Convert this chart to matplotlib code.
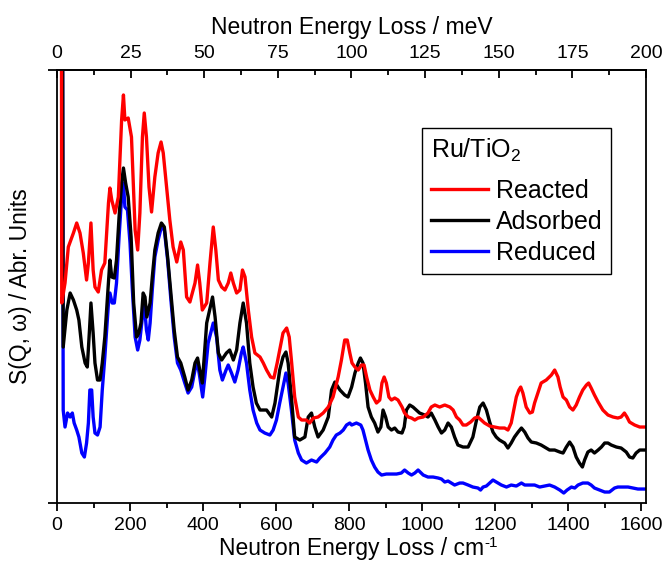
import matplotlib
matplotlib.use("Agg")
import matplotlib.pyplot as plt
from matplotlib.ticker import MultipleLocator, FixedLocator, NullFormatter

plt.rcParams['font.family'] = ['Liberation Sans', 'DejaVu Sans']
plt.rcParams['mathtext.fontset'] = 'custom'
plt.rcParams['mathtext.rm'] = 'Liberation Sans'
plt.rcParams['mathtext.it'] = 'Liberation Sans'

# energy transfer in cm-1, intensity in arbitrary units
reacted_x = [8, 13, 22, 31, 45, 54, 63, 72, 81, 86, 93, 99, 104, 113, 122, 131, 141, 145, 150,
             159, 168, 177, 182, 186, 195, 204, 214, 221, 227, 234, 239, 245, 252, 259, 268,
             277, 285, 291, 300, 309, 318, 328, 339, 346, 355, 364, 378, 385, 391, 398, 410,
             419, 428, 435, 442, 451, 460, 469, 476, 483, 492, 501, 508, 515, 524, 533, 542,
             556, 565, 574, 585, 594, 603, 610, 619, 629, 636, 642, 651, 661, 670, 683, 692,
             702, 715, 729, 743, 756, 770, 779, 788, 795, 802, 808, 816, 825, 834, 841, 848,
             857, 866, 875, 884, 890, 896, 902, 909, 916, 925, 934, 945, 952, 962, 971, 980,
             989, 1003, 1016, 1025, 1035, 1048, 1062, 1076, 1085, 1094, 1103, 1112, 1121, 1133,
             1144, 1153, 1162, 1171, 1185, 1199, 1212, 1226, 1235, 1244, 1251, 1258, 1265, 1270,
             1276, 1285, 1295, 1302, 1308, 1317, 1326, 1340, 1354, 1363, 1372, 1378, 1386, 1395,
             1404, 1413, 1422, 1431, 1440, 1450, 1456, 1463, 1472, 1482, 1495, 1509, 1523, 1536,
             1545, 1554, 1561, 1568, 1582, 1596, 1609]
reacted_y = [2000, 200, 220, 256, 270, 280, 270, 250, 223, 240, 280, 233, 216, 211, 233, 240, 300,
             315, 303, 290, 306, 383, 408, 383, 385, 366, 273, 253, 290, 366, 390, 366, 316,
             291, 326, 350, 361, 350, 316, 283, 256, 241, 261, 253, 206, 201, 220, 238, 220,
             193, 200, 240, 276, 253, 223, 216, 213, 220, 230, 220, 210, 213, 233, 226, 193,
             166, 150, 146, 140, 133, 126, 125, 140, 153, 170, 175, 166, 143, 106, 86, 83, 83,
             80, 85, 86, 90, 96, 106, 126, 143, 163, 163, 150, 140, 136, 133, 138, 138, 126,
             113, 106, 100, 103, 120, 126, 120, 106, 103, 105, 103, 96, 90, 86, 85, 83, 85, 86,
             90, 96, 98, 96, 98, 96, 93, 86, 83, 78, 78, 81, 85, 86, 83, 80, 77, 76, 75, 75, 73,
             80, 93, 106, 113, 116, 110, 96, 90, 91, 100, 110, 120, 123, 128, 133, 126, 116, 106,
             103, 96, 93, 98, 106, 113, 118, 120, 115, 108, 101, 93, 88, 86, 85, 86, 90, 86, 81,
             78, 76, 76]

adsorbed_x = [8, 17, 27, 36, 45, 54, 60, 68, 77, 83, 89, 93, 99, 104, 111, 118, 124, 131, 141,
              145, 150, 157, 163, 170, 177, 182, 188, 195, 203, 210, 218, 224, 230, 236, 241,
              246, 255, 261, 268, 277, 286, 294, 303, 312, 321, 330, 339, 350, 359, 369, 378,
              385, 391, 398, 410, 426, 433, 442, 451, 464, 473, 483, 492, 501, 510, 519, 528,
              537, 546, 556, 574, 588, 597, 610, 619, 627, 633, 642, 651, 665, 679, 688, 697,
              706, 715, 729, 743, 752, 761, 775, 788, 797, 807, 816, 825, 831, 838, 845, 852,
              861, 870, 879, 887, 893, 900, 907, 916, 925, 934, 945, 951, 957, 966, 975, 984,
              993, 1007, 1016, 1025, 1035, 1044, 1053, 1062, 1071, 1080, 1089, 1098, 1112, 1126,
              1139, 1149, 1158, 1167, 1176, 1185, 1194, 1203, 1212, 1226, 1235, 1244, 1253, 1263,
              1272, 1281, 1290, 1299, 1313, 1326, 1340, 1349, 1363, 1377, 1386, 1395, 1404, 1413,
              1422, 1431, 1439, 1445, 1454, 1463, 1472, 1482, 1491, 1500, 1509, 1518, 1532, 1545,
              1559, 1568, 1577, 1586, 1596, 1609]
adsorbed_y = [2000, 156, 193, 210, 203, 193, 183, 156, 140, 136, 173, 200, 170, 140, 123, 123,
              140, 166, 220, 243, 226, 225, 243, 286, 320, 335, 320, 306, 266, 200, 166, 170,
              180, 210, 206, 186, 200, 226, 253, 270, 280, 276, 246, 210, 173, 146, 140, 126,
              113, 123, 140, 145, 133, 120, 180, 206, 186, 150, 143, 150, 153, 143, 153, 180,
              200, 180, 140, 116, 100, 93, 93, 86, 100, 133, 146, 151, 140, 106, 66, 63, 66, 86,
              90, 76, 66, 73, 86, 113, 121, 113, 108, 106, 116, 130, 140, 145, 140, 120, 96, 86,
              80, 71, 76, 93, 86, 76, 73, 75, 71, 70, 76, 93, 98, 96, 93, 90, 88, 86, 90, 83, 76,
              70, 73, 80, 76, 66, 58, 56, 56, 66, 83, 96, 100, 93, 81, 71, 66, 63, 60, 55, 60, 66,
              71, 75, 71, 65, 61, 60, 58, 55, 53, 53, 51, 50, 56, 61, 56, 46, 40, 36, 43, 51, 53,
              50, 53, 56, 60, 60, 58, 56, 55, 51, 46, 45, 50, 53, 53]

reduced_x = [8, 17, 22, 29, 36, 42, 47, 54, 60, 68, 75, 81, 86, 90, 95, 99, 104, 111, 118, 124,
             131, 141, 145, 151, 157, 163, 170, 177, 182, 186, 193, 200, 206, 214, 221, 227,
             234, 239, 245, 250, 255, 261, 268, 277, 286, 294, 303, 312, 321, 330, 339, 350,
             359, 369, 378, 385, 391, 399, 405, 414, 428, 437, 446, 453, 463, 469, 478, 487,
             496, 505, 510, 519, 528, 537, 547, 556, 569, 583, 592, 601, 610, 619, 627, 633,
             642, 651, 661, 670, 683, 697, 711, 720, 734, 747, 756, 765, 775, 784, 793, 802,
             807, 820, 832, 838, 845, 852, 861, 870, 879, 889, 902, 916, 930, 943, 952, 962,
             971, 980, 989, 1003, 1016, 1030, 1044, 1053, 1062, 1071, 1080, 1089, 1103, 1112,
             1126, 1139, 1153, 1160, 1167, 1176, 1185, 1194, 1203, 1217, 1231, 1244, 1258,
             1272, 1281, 1295, 1308, 1322, 1336, 1349, 1363, 1377, 1388, 1397, 1409, 1418,
             1427, 1440, 1454, 1463, 1472, 1486, 1500, 1513, 1527, 1536, 1550, 1564, 1577,
             1591, 1609]
reduced_y = [2000, 93, 76, 90, 86, 90, 80, 73, 66, 50, 46, 60, 80, 113, 113, 86, 70, 68, 76,
             113, 146, 200, 210, 200, 200, 220, 266, 306, 320, 296, 293, 260, 216, 166, 153,
             163, 186, 200, 173, 163, 180, 213, 246, 263, 276, 273, 243, 203, 166, 140, 133,
             120, 110, 116, 133, 140, 126, 106, 126, 160, 180, 166, 133, 123, 133, 138, 130,
             121, 133, 150, 156, 140, 113, 93, 80, 73, 70, 68, 73, 83, 100, 116, 130, 120, 93,
             63, 50, 43, 40, 43, 41, 45, 50, 56, 63, 68, 70, 73, 78, 80, 78, 80, 78, 73, 63, 53,
             43, 36, 31, 28, 29, 29, 29, 30, 33, 30, 28, 30, 33, 28, 26, 26, 25, 24, 21, 22, 20,
             18, 20, 20, 18, 16, 15, 13, 16, 17, 20, 23, 21, 18, 16, 18, 17, 20, 18, 18, 18, 16,
             17, 18, 16, 13, 10, 13, 16, 15, 18, 20, 20, 18, 15, 13, 11, 11, 15, 16, 16, 16, 15,
             14, 14]

bottom_ticks = [0, 200, 400, 600, 800, 1000, 1200, 1400, 1600]
top_ticks_mev = [0, 25, 50, 75, 100, 125, 150, 175, 200]
MEV_TO_CM = 8.06554

fig = plt.figure(figsize=(6.65, 5.77), dpi=100)
ax = fig.add_axes([0.0857, 0.1282, 0.8857, 0.7505])

ax.plot(reduced_x, reduced_y, color='#0000ff', lw=2.4, label='Reduced')
ax.plot(adsorbed_x, adsorbed_y, color='black', lw=2.4, label='Adsorbed')
ax.plot(reacted_x, reacted_y, color='#ff0000', lw=2.4, label='Reacted')

xmax = 200 * MEV_TO_CM
ax.set_xlim(0, xmax)
ax.set_ylim(0, 433)

for s in ax.spines.values():
    s.set_linewidth(1.3)

ax.xaxis.set_major_locator(FixedLocator(bottom_ticks))
ax.xaxis.set_minor_locator(MultipleLocator(100))
ax.tick_params(axis='x', which='major', direction='out', length=6, width=1.3,
               labelsize=14, pad=4, top=False)
ax.tick_params(axis='x', which='minor', direction='out', length=3.5, width=1.3, top=False)

ax.yaxis.set_major_locator(FixedLocator([0, 433]))
ax.yaxis.set_minor_locator(FixedLocator([]))
ax.yaxis.set_major_formatter(NullFormatter())
ax.tick_params(axis='y', which='major', direction='out', length=6.5, width=1.3, right=False)

sec = ax.secondary_xaxis('top', functions=(lambda x: x / MEV_TO_CM, lambda e: e * MEV_TO_CM))
sec.set_xticks(top_ticks_mev)
sec.xaxis.set_minor_locator(MultipleLocator(12.5))
sec.tick_params(which='major', direction='in', length=6, width=1.3, labelsize=14, pad=6)
sec.tick_params(which='minor', direction='in', length=3.5, width=1.3)
sec.spines['top'].set_linewidth(1.3)
sec.set_xlabel('Neutron Energy Loss / meV', fontsize=16.5, labelpad=8)

xl = ax.set_xlabel('Neutron Energy Loss / cm', fontsize=16.5, labelpad=2)
ax.set_ylabel('S(Q, \u03c9) / Abr. Units', fontsize=16.5, labelpad=8)

h, l = ax.get_legend_handles_labels()
order = [2, 1, 0]
leg = ax.legend([h[i] for i in order], [l[i] for i in order],
                title='Ru/TiO$_\\mathregular{2}$', title_fontsize=18, fontsize=18,
                loc='upper left', bbox_to_anchor=(0.62, 0.866), borderaxespad=0,
                fancybox=False, edgecolor='black', framealpha=1, handlelength=2.3,
                handletextpad=0.3, labelspacing=0.28, borderpad=0.35, alignment='left')
leg.get_frame().set_linewidth(1.0)
leg._legend_box.sep = 11

# superscript "-1" after "cm" in the bottom label (plain hyphen as in the original)
fig.canvas.draw()
bb = xl.get_window_extent()
fig.text(bb.x1 / fig.bbox.width + 0.001, (bb.y1 + 1) / fig.bbox.height, '-1',
         fontsize=11, ha='left', va='top')

fig.savefig('out.png', dpi=100)
